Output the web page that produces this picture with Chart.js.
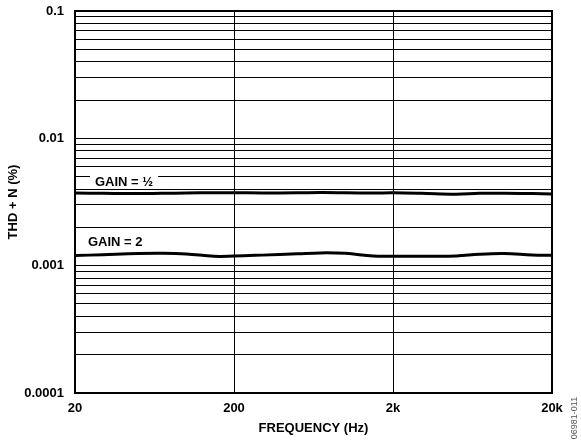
<!DOCTYPE html>
<html>
<head>
<meta charset="utf-8">
<script src="https://cdn.jsdelivr.net/npm/chart.js@4/dist/chart.umd.min.js"></script>
<style>
    html, body { margin: 0; padding: 0; background: #fff; }
</style>
</head>
<body>
<canvas id="thdChart" width="581" height="446"></canvas>
<script>
// ── Data ─────────────────────────────────────────────────────
const freqHz      = [20, 30, 50, 70, 100, 150, 200, 300, 500, 700, 1000, 1500, 2000, 3000, 5000, 7000, 10000, 15000, 20000];
const thdGainHalf = [0.00372, 0.00370, 0.00368, 0.00370, 0.00372, 0.00374, 0.00374, 0.00372, 0.00373, 0.00375, 0.00374, 0.00372, 0.00373, 0.00370, 0.00364, 0.00370, 0.00371, 0.00368, 0.00366];
const thdGain2    = [0.00120, 0.00122, 0.001245, 0.00125, 0.001235, 0.001185, 0.00119, 0.00121, 0.00124, 0.00126, 0.00125, 0.00119, 0.001185, 0.001185, 0.00119, 0.00123, 0.001245, 0.001215, 0.001205];

const xTickValues = [20, 200, 2000, 20000];
const xTickLabels = ['20', '200', '2k', '20k'];
const yTickValues = [0.0001, 0.001, 0.01, 0.1];
const yTickLabels = ['0.0001', '0.001', '0.01', '0.1'];

// In-plot labels: [text, freq, thd, white backing]
const curveLabels = [
    ['GAIN = \u00BD', 26.7, 0.00451, true],
    ['GAIN = 2',      24.1, 0.00152, false]
];

const FONT = '"Liberation Sans", Arial, Helvetica, sans-serif';
Chart.defaults.font.family = FONT;
Chart.defaults.color = '#000';

// ── Overlay: frame, curve labels, figure code ─────────────────
const overlayPlugin = {
    id: 'overlay',
    afterDatasetsDraw(chart) {
        const { ctx, chartArea: a, scales: { x, y } } = chart;
        ctx.save();

        ctx.font = 'bold 13px ' + FONT;
        ctx.textBaseline = 'middle';
        ctx.textAlign = 'left';
        curveLabels.forEach(([text, f, v, boxed]) => {
            const px = x.getPixelForValue(f);
            const py = y.getPixelForValue(v);
            const w  = ctx.measureText(text).width;
            if (boxed) {
                ctx.fillStyle = '#fff';
                ctx.fillRect(px - 5, py - 7, w + 10, 13);
            }
            ctx.fillStyle = '#000';
            ctx.fillText(text, px, py);
        });

        ctx.lineWidth = 2;
        ctx.strokeStyle = '#000';
        ctx.strokeRect(a.left, a.top, a.right - a.left, a.bottom - a.top);

        // figure code, rotated at right edge
        ctx.translate(575, 418);
        ctx.rotate(-Math.PI / 2);
        ctx.font = '9px ' + FONT;
        ctx.fillStyle = '#555';
        ctx.textAlign = 'center';
        ctx.fillText('06981-011', 0, 0);
        ctx.restore();
    }
};

// ── Chart ─────────────────────────────────────────────────────
const lineStyle = {
    borderColor: '#000',
    borderWidth: 3,
    pointRadius: 0,
    tension: 0.4,
    fill: false
};

new Chart(document.getElementById('thdChart'), {
    type: 'line',
    data: {
        datasets: [
            { ...lineStyle, label: 'GAIN = 1/2', data: freqHz.map((f, i) => ({ x: f, y: thdGainHalf[i] })) },
            { ...lineStyle, label: 'GAIN = 2',   data: freqHz.map((f, i) => ({ x: f, y: thdGain2[i] })) }
        ]
    },
    options: {
        responsive: false,
        animation: false,
        layout: { padding: { top: 11, right: 29, left: 0, bottom: 0 } },
        plugins: { legend: { display: false }, tooltip: { enabled: false } },
        scales: {
            x: {
                type: 'logarithmic',
                min: 20,
                max: 20000,
                border: { display: false },
                grid: { color: '#000', lineWidth: 1, drawTicks: false },
                ticks: {
                    autoSkip: false,
                    maxRotation: 0,
                    padding: 8,
                    font: { size: 13, weight: 'bold' },
                    callback: (v, i) => xTickLabels[i]
                },
                afterBuildTicks: s => { s.ticks = xTickValues.map(v => ({ value: v })); },
                afterFit: s => { s.height = 53; s.paddingLeft = 0; s.paddingRight = 0; },
                title: {
                    display: true,
                    text: 'FREQUENCY (Hz)',
                    font: { size: 13, weight: 'bold' },
                    padding: { top: 0, bottom: 10 }
                }
            },
            y: {
                type: 'logarithmic',
                min: 0.0001,
                max: 0.1,
                border: { display: false },
                grid: { color: '#000', lineWidth: 1, drawTicks: false },
                ticks: {
                    autoSkip: false,
                    padding: 11,
                    font: { size: 13, weight: 'bold' },
                    callback: v => {
                        const k = yTickValues.findIndex(t => Math.abs(t - v) / t < 1e-6);
                        return k >= 0 ? yTickLabels[k] : '';
                    }
                },
                // every 1..9 multiple inside each decade gets a grid line
                afterBuildTicks: s => {
                    const t = [];
                    yTickValues.forEach((d, i) => {
                        if (i === yTickValues.length - 1) { t.push({ value: d }); return; }
                        for (let m = 1; m < 10; m++) t.push({ value: d * m });
                    });
                    s.ticks = t;
                },
                afterFit: s => { s.width = 75; s.paddingTop = 0; s.paddingBottom = 0; },
                title: {
                    display: true,
                    text: 'THD + N (%)',
                    font: { size: 13, weight: 'bold' },
                    padding: { top: 6, bottom: 0 }
                }
            }
        }
    },
    plugins: [overlayPlugin]
});
</script>
</body>
</html>
